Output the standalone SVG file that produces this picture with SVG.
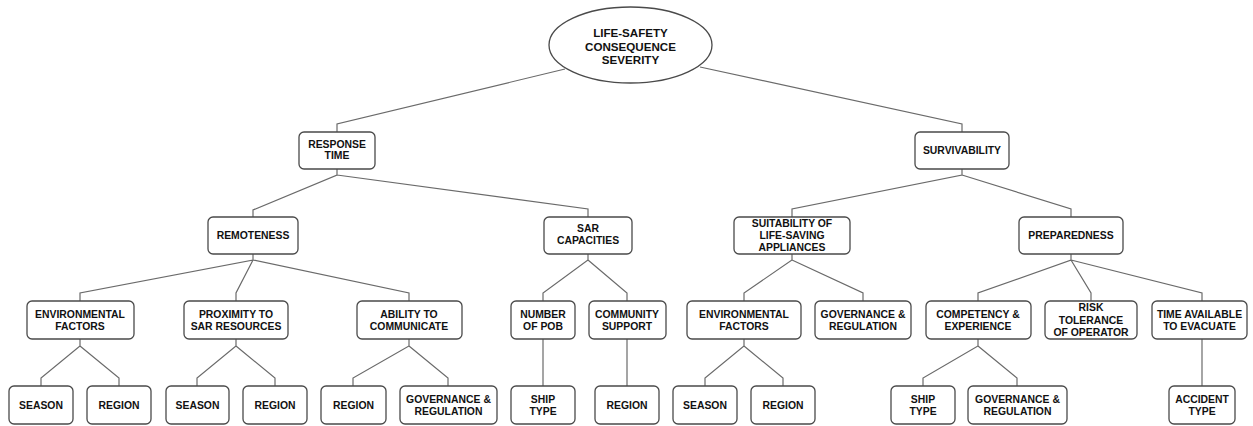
<svg xmlns="http://www.w3.org/2000/svg" width="1253" height="426" viewBox="0 0 1253 426">
<style>
.n rect{fill:#fff;stroke:#4a4a4a;stroke-width:1.3}
.n ellipse{fill:#fff;stroke:#4a4a4a;stroke-width:1.3}
.n text{font-family:"Liberation Sans",Arial,sans-serif;font-weight:bold;font-size:10.4px;fill:#111;text-anchor:middle}
#root text{font-size:11.6px}
#connectors path{fill:none;stroke:#6a6a6a;stroke-width:1.2}
</style>
<rect width="1253" height="426" fill="#fff"/>
<g id="connectors">
<path d="M565,69 L337,124 V132 M700,67 L962,124 V132"/>
<path d="M337,169 V175 L253,210 V217 M337,175 L588,209 V217"/>
<path d="M962,169 V175 L792,209 V217 M962,175 L1071,209 V217"/>
<path d="M253,254 V260 L80,293 V301 M253,260 L236,293 V301 M253,260 L409,293 V301"/>
<path d="M588,254 V260 L543,293 V301 M588,260 L627,293 V301"/>
<path d="M792,254 V260 L744,293 V301 M792,260 L863,293 V301"/>
<path d="M1071,254 V260 L978,293 V301 M1071,260 L1091,293 V301 M1071,260 L1202,293 V301"/>
<path d="M80,339 V346 L41,378 V386 M80,346 L119,378 V386"/>
<path d="M236,339 V346 L197,378 V386 M236,346 L275,378 V386"/>
<path d="M409,339 V346 L353,378 V386 M409,346 L448,378 V386"/>
<path d="M543,339 V386 M627,339 V386"/>
<path d="M744,339 V346 L705,378 V386 M744,346 L783,378 V386"/>
<path d="M978,339 V346 L923,378 V386 M978,346 L1017,378 V386"/>
<path d="M1202,339 V386"/>
</g>
<g id="root" class="n"><ellipse cx="630.5" cy="45" rx="81.5" ry="38"/><text x="630.5" y="37">LIFE-SAFETY</text><text x="630.5" y="50.5">CONSEQUENCE</text><text x="630.5" y="64">SEVERITY</text></g>

<g id="response-time" class="n"><rect x="299" y="132" width="76" height="37" rx="5"/><text x="337" y="147.7">RESPONSE</text><text x="337" y="159.4">TIME</text></g>
<g id="survivability" class="n"><rect x="915" y="132" width="94" height="37" rx="5"/><text x="962" y="154.2">SURVIVABILITY</text></g>

<g id="remoteness" class="n"><rect x="208" y="217" width="90" height="37" rx="5"/><text x="253" y="239.2">REMOTENESS</text></g>
<g id="sar-capacities" class="n"><rect x="544" y="217" width="88" height="37" rx="5"/><text x="588" y="232.4">SAR</text><text x="588" y="244">CAPACITIES</text></g>
<g id="suitability" class="n"><rect x="734" y="217" width="116" height="37" rx="5"/><text x="792" y="227.4">SUITABILITY OF</text><text x="792" y="239.2">LIFE-SAVING</text><text x="792" y="251">APPLIANCES</text></g>
<g id="preparedness" class="n"><rect x="1019" y="217" width="104" height="37" rx="5"/><text x="1071" y="239.2">PREPAREDNESS</text></g>

<g id="env-factors-1" class="n"><rect x="27" y="301" width="107" height="38" rx="5"/><text x="80" y="317.7">ENVIRONMENTAL</text><text x="80" y="329.7">FACTORS</text></g>
<g id="proximity" class="n"><rect x="184" y="301" width="104" height="38" rx="5"/><text x="236" y="317.7">PROXIMITY TO</text><text x="236" y="329.7">SAR RESOURCES</text></g>
<g id="ability" class="n"><rect x="357" y="301" width="105" height="38" rx="5"/><text x="409" y="317.7">ABILITY TO</text><text x="409" y="329.7">COMMUNICATE</text></g>
<g id="number-pob" class="n"><rect x="511" y="301" width="64" height="38" rx="5"/><text x="543" y="317.7">NUMBER</text><text x="543" y="329.7">OF POB</text></g>
<g id="community" class="n"><rect x="589" y="301" width="77" height="38" rx="5"/><text x="627" y="317.7">COMMUNITY</text><text x="627" y="329.7">SUPPORT</text></g>
<g id="env-factors-2" class="n"><rect x="687" y="301" width="114" height="38" rx="5"/><text x="744" y="317.7">ENVIRONMENTAL</text><text x="744" y="329.7">FACTORS</text></g>
<g id="gov-reg-1" class="n"><rect x="815" y="301" width="96" height="38" rx="5"/><text x="863" y="317.7">GOVERNANCE &amp;</text><text x="863" y="329.7">REGULATION</text></g>
<g id="competency" class="n"><rect x="926" y="301" width="105" height="38" rx="5"/><text x="978" y="317.7">COMPETENCY &amp;</text><text x="978" y="329.7">EXPERIENCE</text></g>
<g id="risk-tolerance" class="n"><rect x="1045" y="301" width="92" height="38" rx="5"/><text x="1091" y="310.5">RISK</text><text x="1091" y="323.5">TOLERANCE</text><text x="1091" y="335.5">OF OPERATOR</text></g>
<g id="time-available" class="n"><rect x="1152" y="301" width="95" height="38" rx="5"/><text x="1199.5" y="317.7">TIME AVAILABLE</text><text x="1199.5" y="329.7">TO EVACUATE</text></g>

<g id="season-1" class="n"><rect x="9" y="386" width="64" height="38" rx="5"/><text x="41" y="408.7">SEASON</text></g>
<g id="region-1" class="n"><rect x="87" y="386" width="64" height="38" rx="5"/><text x="119" y="408.7">REGION</text></g>
<g id="season-2" class="n"><rect x="166" y="386" width="63" height="38" rx="5"/><text x="197.5" y="408.7">SEASON</text></g>
<g id="region-2" class="n"><rect x="243" y="386" width="64" height="38" rx="5"/><text x="275" y="408.7">REGION</text></g>
<g id="region-3" class="n"><rect x="321" y="386" width="65" height="38" rx="5"/><text x="353.5" y="408.7">REGION</text></g>
<g id="gov-reg-2" class="n"><rect x="400" y="386" width="97" height="38" rx="5"/><text x="448.5" y="402.5">GOVERNANCE &amp;</text><text x="448.5" y="414.5">REGULATION</text></g>
<g id="ship-type-1" class="n"><rect x="511" y="386" width="64" height="38" rx="5"/><text x="543" y="402.5">SHIP</text><text x="543" y="414.5">TYPE</text></g>
<g id="region-4" class="n"><rect x="595" y="386" width="64" height="38" rx="5"/><text x="627" y="408.7">REGION</text></g>
<g id="season-3" class="n"><rect x="673" y="386" width="64" height="38" rx="5"/><text x="705" y="408.7">SEASON</text></g>
<g id="region-5" class="n"><rect x="751" y="386" width="64" height="38" rx="5"/><text x="783" y="408.7">REGION</text></g>
<g id="ship-type-2" class="n"><rect x="891" y="386" width="64" height="38" rx="5"/><text x="923" y="402.5">SHIP</text><text x="923" y="414.5">TYPE</text></g>
<g id="gov-reg-3" class="n"><rect x="968" y="386" width="99" height="38" rx="5"/><text x="1017.5" y="402.5">GOVERNANCE &amp;</text><text x="1017.5" y="414.5">REGULATION</text></g>
<g id="accident-type" class="n"><rect x="1169" y="386" width="66" height="38" rx="5"/><text x="1202" y="402.5">ACCIDENT</text><text x="1202" y="414.5">TYPE</text></g>
</svg>
